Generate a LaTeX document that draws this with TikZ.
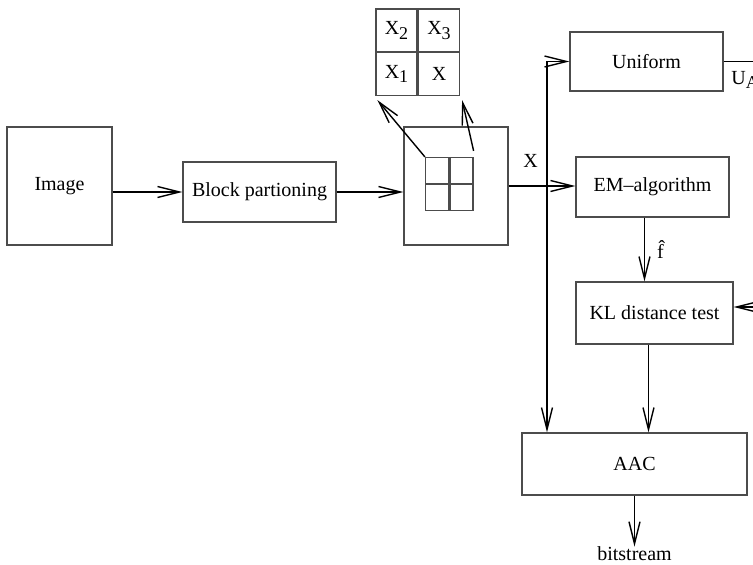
\documentclass[tikz,border=0pt]{standalone}
\usepackage{fontspec}
\setmainfont{Liberation Serif}
\usetikzlibrary{arrows.meta}
\newcommand{\lowidx}[1]{\raisebox{-0.5ex}{\small #1}}

\begin{document}
\begin{tikzpicture}[x=0.5pt,y=-0.5pt,
    blockbox/.style={draw=black!70,line width=0.6pt,inner sep=0pt},
    cellbox/.style={draw=black!70,line width=0.6pt,inner sep=0pt},
    arr/.style={-{Straight Barb[length=11pt,width=5.5pt]},line width=0.7pt},
    lbl/.style={inner sep=0pt}]
    \useasboundingbox (0,0) rectangle (753,565);
    % main blocks
    \node[blockbox,minimum width=52.5pt,minimum height=59pt] (img) at (59.5,186) {Image};
    \node[blockbox,minimum width=76.5pt,minimum height=30pt] (part) at (259.5,192) {Block partioning};
    \node[blockbox,minimum width=52pt,minimum height=59pt] (blk) at (456,186) {};
    \node[blockbox,minimum width=76.5pt,minimum height=29.5pt] (uni) at (646.5,61.5) {Uniform};
    \node[blockbox,minimum width=76.5pt,minimum height=30pt] (em) at (652.5,187) {EM\textendash algorithm};
    \node[blockbox,minimum width=78.5pt,minimum height=31pt] (kl) at (654.5,313) {KL distance test};
    \node[blockbox,minimum width=112.5pt,minimum height=31pt] (aac) at (634.5,464) {AAC};
    \node[lbl] (bs) at (634.5,554) {bitstream};
    % small grid inside the block
    \node[cellbox,minimum width=11.5pt,minimum height=13pt] (c1) at (437,170.5) {};
    \node[cellbox,minimum width=11.5pt,minimum height=13pt] (c2) at (461.5,170.5) {};
    \node[cellbox,minimum width=11.5pt,minimum height=13pt] (c3) at (437,197.5) {};
    \node[cellbox,minimum width=11.5pt,minimum height=13pt] (c4) at (461.5,197.5) {};
    % neighbourhood grid
    \node[cellbox,minimum width=20.5pt,minimum height=21.5pt] (t1) at (396.5,30.5) {X\lowidx{2}};
    \node[cellbox,minimum width=20.5pt,minimum height=21.5pt] (t2) at (439,30.5) {X\lowidx{3}};
    \node[cellbox,minimum width=20.5pt,minimum height=21.5pt] (t3) at (396.5,74) {X\lowidx{1}};
    \node[cellbox,minimum width=20.5pt,minimum height=21.5pt] (t4) at (439,74) {X};
    % free ends
    \coordinate (j) at (547,186);
    \coordinate (ua) at (780,61.5);
    \coordinate (kr) at (780,307);
    % connectors
    \draw[arr] (img.east |- part) -- (part.west);
    \draw[arr] (part.east) -- (part.east -| blk.west);
    \draw[arr] (c1.north west) -- ([shift={(1pt,-2pt)}]t3.south west);
    \draw[arr] ([yshift=3pt]c2.north east) -- ([shift={(1pt,-2pt)}]t4.south east);
    \draw[arr] (blk.east) -- (blk.east -| em.west)
        node[lbl,pos=0.33,above=9pt] (xl) {X};
    \draw[arr] (j) |- (uni.west);
    \draw[arr] (j) -- (j |- aac.north);
    \draw[line width=0.7pt] (uni.east) -- (ua);
    \node[lbl,anchor=west] (ual) at (731,80) {U\lowidx{A}};
    \draw[arr] ([xshift=-4pt]em.south) -- ([xshift=-4pt]em.south |- kl.north)
        node[lbl,pos=0.5,right=6pt] (fh) {\^{f}};
    \draw[arr] (kr) -- (kr -| kl.east);
    \draw[arr] ([xshift=-3pt]kl.south) -- ([xshift=-3pt]kl.south |- aac.north);
    \draw[arr] (aac.south) -- (aac.south |- bs.north);
\end{tikzpicture}
\end{document}
